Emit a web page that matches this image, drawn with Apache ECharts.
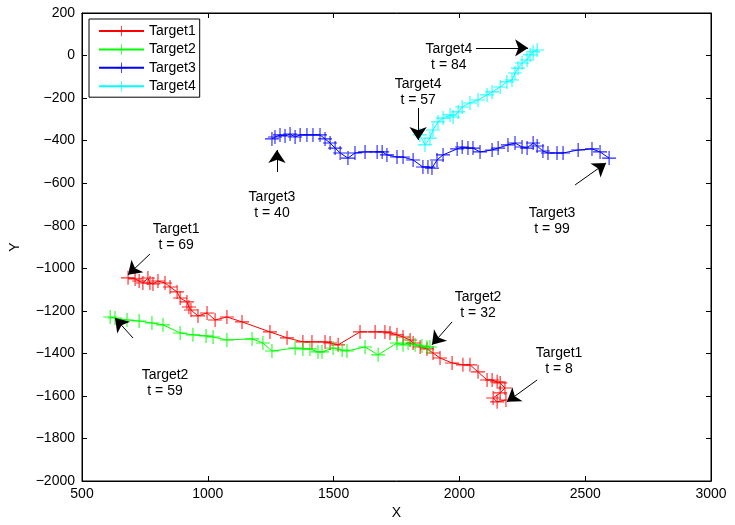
<!DOCTYPE html>
<html>
<head>
<meta charset="utf-8">
<script src="https://cdn.jsdelivr.net/npm/echarts@6/dist/echarts.min.js"></script>
<style>
  html, body { margin: 0; padding: 0; background: #fff; }
  #chart { width: 735px; height: 525px; }
</style>
</head>
<body>
<div id="chart"></div>
<script>
// track data (X, Y pairs in time order)
var target1X = [2185, 2150, 2134, 2162, 2181, 2162, 2150, 2130, 2110, 2074, 2042, 2014, 1971, 1923, 1895, 1871, 1844, 1816, 1804, 1776, 1752, 1724, 1704, 1665, 1605, 1518, 1486, 1466, 1414, 1378, 1315, 1247, 1136, 1076, 1029, 997, 961, 933, 925, 917, 890, 878, 850, 830, 802, 782, 770, 762, 742, 727, 711, 683];
var target1Y = [-1619, -1628, -1610, -1586, -1563, -1539, -1534, -1525, -1525, -1487, -1454, -1454, -1445, -1422, -1398, -1379, -1370, -1351, -1337, -1323, -1313, -1304, -1299, -1299, -1299, -1360, -1351, -1346, -1346, -1346, -1327, -1299, -1252, -1229, -1243, -1210, -1224, -1196, -1182, -1158, -1140, -1111, -1088, -1069, -1060, -1074, -1069, -1046, -1069, -1060, -1050, -1045];

var target2X = [1883, 1871, 1851, 1824, 1796, 1776, 1752, 1677, 1625, 1553, 1534, 1498, 1454, 1438, 1406, 1378, 1347, 1255, 1219, 1176, 1076, 1021, 993, 941, 890, 822, 778, 727, 679, 631, 612];
var target2Y = [-1370, -1370, -1365, -1360, -1351, -1360, -1351, -1407, -1370, -1389, -1384, -1375, -1393, -1393, -1379, -1379, -1375, -1389, -1351, -1332, -1337, -1323, -1318, -1313, -1304, -1266, -1257, -1248, -1243, -1234, -1229];

var target3X = [1255, 1267, 1287, 1307, 1327, 1347, 1367, 1394, 1418, 1446, 1466, 1486, 1506, 1526, 1557, 1585, 1625, 1673, 1693, 1712, 1752, 1776, 1816, 1855, 1875, 1891, 1911, 1935, 1991, 2011, 2034, 2054, 2082, 2130, 2154, 2193, 2221, 2249, 2269, 2293, 2309, 2332, 2352, 2388, 2412, 2472, 2527, 2559, 2595];
var target3Y = [-392, -383, -373, -378, -369, -383, -373, -373, -373, -373, -392, -411, -435, -458, -482, -458, -453, -453, -453, -467, -477, -477, -491, -524, -524, -529, -491, -467, -439, -430, -435, -435, -453, -444, -435, -420, -411, -430, -435, -411, -425, -449, -458, -458, -458, -444, -439, -453, -482];

var target4X = [1843, 1863, 1883, 1895, 1915, 1935, 1963, 1975, 1995, 2011, 2042, 2074, 2110, 2130, 2162, 2189, 2209, 2221, 2233, 2249, 2269, 2281, 2293, 2309];
var target4Y = [-373, -420, -388, -350, -312, -294, -279, -289, -265, -242, -223, -209, -185, -171, -148, -124, -115, -82, -59, -35, -21, 3, 17, 26];

var seriesNames = ['Target1', 'Target2', 'Target3', 'Target4'];
var seriesColors = ['#ff0000', '#00ff00', '#0000ff', '#00ffff'];

// annotations: text, text position, arrow start, arrow tip (data units)
var annotText = ['Target1\nt = 69', 'Target2\nt = 59', 'Target3\nt = 40', 'Target3\nt = 99', 'Target4\nt = 57', 'Target4\nt = 84', 'Target2\nt = 32', 'Target1\nt = 8'];
var annotAt = [[874, -855], [830, -1539], [1255, -702], [2368, -778], [1836, -171], [1958, -7], [2074, -1172], [2396, -1436]];
var arrowFrom = [[770, -933], [703, -1328], [1275, -547], [2460, -608], [1836, -247], [2066, 36], [1971, -1252], [2309, -1525]];
var arrowTo = [[683, -1031], [631, -1234], [1275, -444], [2583, -505], [1836, -397], [2273, 36], [1891, -1360], [2189, -1628]];

var plusPath = 'path://M4.6,0H5.4V4.6H10V5.4H5.4V10H4.6V5.4H0V4.6H4.6Z';
var fontFam = 'Liberation Sans, Arial, sans-serif';

function pairs(xs, ys) {
  var out = [];
  for (var i = 0; i < xs.length; i++) out.push([xs[i], ys[i]]);
  return out;
}

var allX = [target1X, target2X, target3X, target4X];
var allY = [target1Y, target2Y, target3Y, target4Y];

var series = [];
for (var s = 0; s < 4; s++) {
  series.push({
    name: seriesNames[s],
    type: 'line',
    data: pairs(allX[s], allY[s]),
    symbol: plusPath,
    symbolSize: 14,
    showAllSymbol: true,
    lineStyle: { color: seriesColors[s], width: 1 },
    itemStyle: { color: seriesColors[s], opacity: 0.85 },
    emphasis: { disabled: true }
  });
}

var arrowLines = [];
var textPoints = [];
for (var a = 0; a < annotText.length; a++) {
  arrowLines.push([{ coord: arrowFrom[a] }, { coord: arrowTo[a] }]);
  textPoints.push({ coord: annotAt[a], value: annotText[a] });
}

series.push({
  name: 'notes',
  type: 'scatter',
  data: [],
  markLine: {
    silent: true,
    symbol: ['none', 'arrow'],
    symbolSize: 13,
    lineStyle: { color: '#000', width: 1, type: 'solid' },
    itemStyle: { color: '#000' },
    label: { show: false },
    data: arrowLines
  },
  markPoint: {
    silent: true,
    symbol: 'rect',
    symbolSize: 1,
    itemStyle: { color: 'rgba(0,0,0,0)' },
    label: {
      show: true,
      position: 'inside',
      color: '#000',
      fontSize: 14,
      lineHeight: 16,
      fontFamily: fontFam,
      align: 'center',
      formatter: function (p) { return p.value; }
    },
    data: textPoints
  }
});

function plainFmt(v) { return String(v).replace('-', '\u2212'); }

var chart = echarts.init(document.getElementById('chart'));
chart.setOption({
  animation: false,
  backgroundColor: '#fff',
  textStyle: { fontFamily: fontFam },
  grid: { left: 82, right: 24, top: 13, bottom: 44, show: true, borderColor: '#000', borderWidth: 1 },
  legend: {
    data: seriesNames,
    orient: 'vertical',
    left: 89,
    top: 19,
    padding: [5, 4, 4, 9],
    itemWidth: 45,
    itemHeight: 13,
    itemGap: 4.4,
    backgroundColor: '#fff',
    borderColor: '#000',
    borderWidth: 1,
    textStyle: { fontSize: 14, color: '#000' }
  },
  xAxis: [{
    type: 'value', min: 500, max: 3000, interval: 500,
    name: 'X', nameLocation: 'middle', nameGap: 24,
    nameTextStyle: { fontSize: 14, color: '#000' },
    axisLine: { show: true, onZero: false, lineStyle: { color: '#000', width: 1 } },
    axisTick: { show: true, inside: true, length: 5, lineStyle: { color: '#000' } },
    axisLabel: { fontSize: 14, color: '#000', margin: 6, formatter: plainFmt },
    splitLine: { show: false }
  }, {
    type: 'value', position: 'top', min: 500, max: 3000, interval: 500,
    axisLine: { show: true, onZero: false, lineStyle: { color: '#000', width: 1 } },
    axisTick: { show: true, inside: true, length: 5, lineStyle: { color: '#000' } },
    axisLabel: { show: false },
    splitLine: { show: false }
  }],
  yAxis: [{
    type: 'value', min: -2000, max: 200, interval: 200,
    name: 'Y', nameLocation: 'middle', nameGap: 60, nameRotate: 90,
    nameTextStyle: { fontSize: 14, color: '#000' },
    axisLine: { show: true, onZero: false, lineStyle: { color: '#000', width: 1 } },
    axisTick: { show: true, inside: true, length: 5, lineStyle: { color: '#000' } },
    axisLabel: { fontSize: 14, color: '#000', margin: 7, formatter: plainFmt },
    splitLine: { show: false }
  }, {
    type: 'value', position: 'right', min: -2000, max: 200, interval: 200,
    axisLine: { show: true, onZero: false, lineStyle: { color: '#000', width: 1 } },
    axisTick: { show: true, inside: true, length: 5, lineStyle: { color: '#000' } },
    axisLabel: { show: false },
    splitLine: { show: false }
  }],
  series: series
});
</script>
</body>
</html>
